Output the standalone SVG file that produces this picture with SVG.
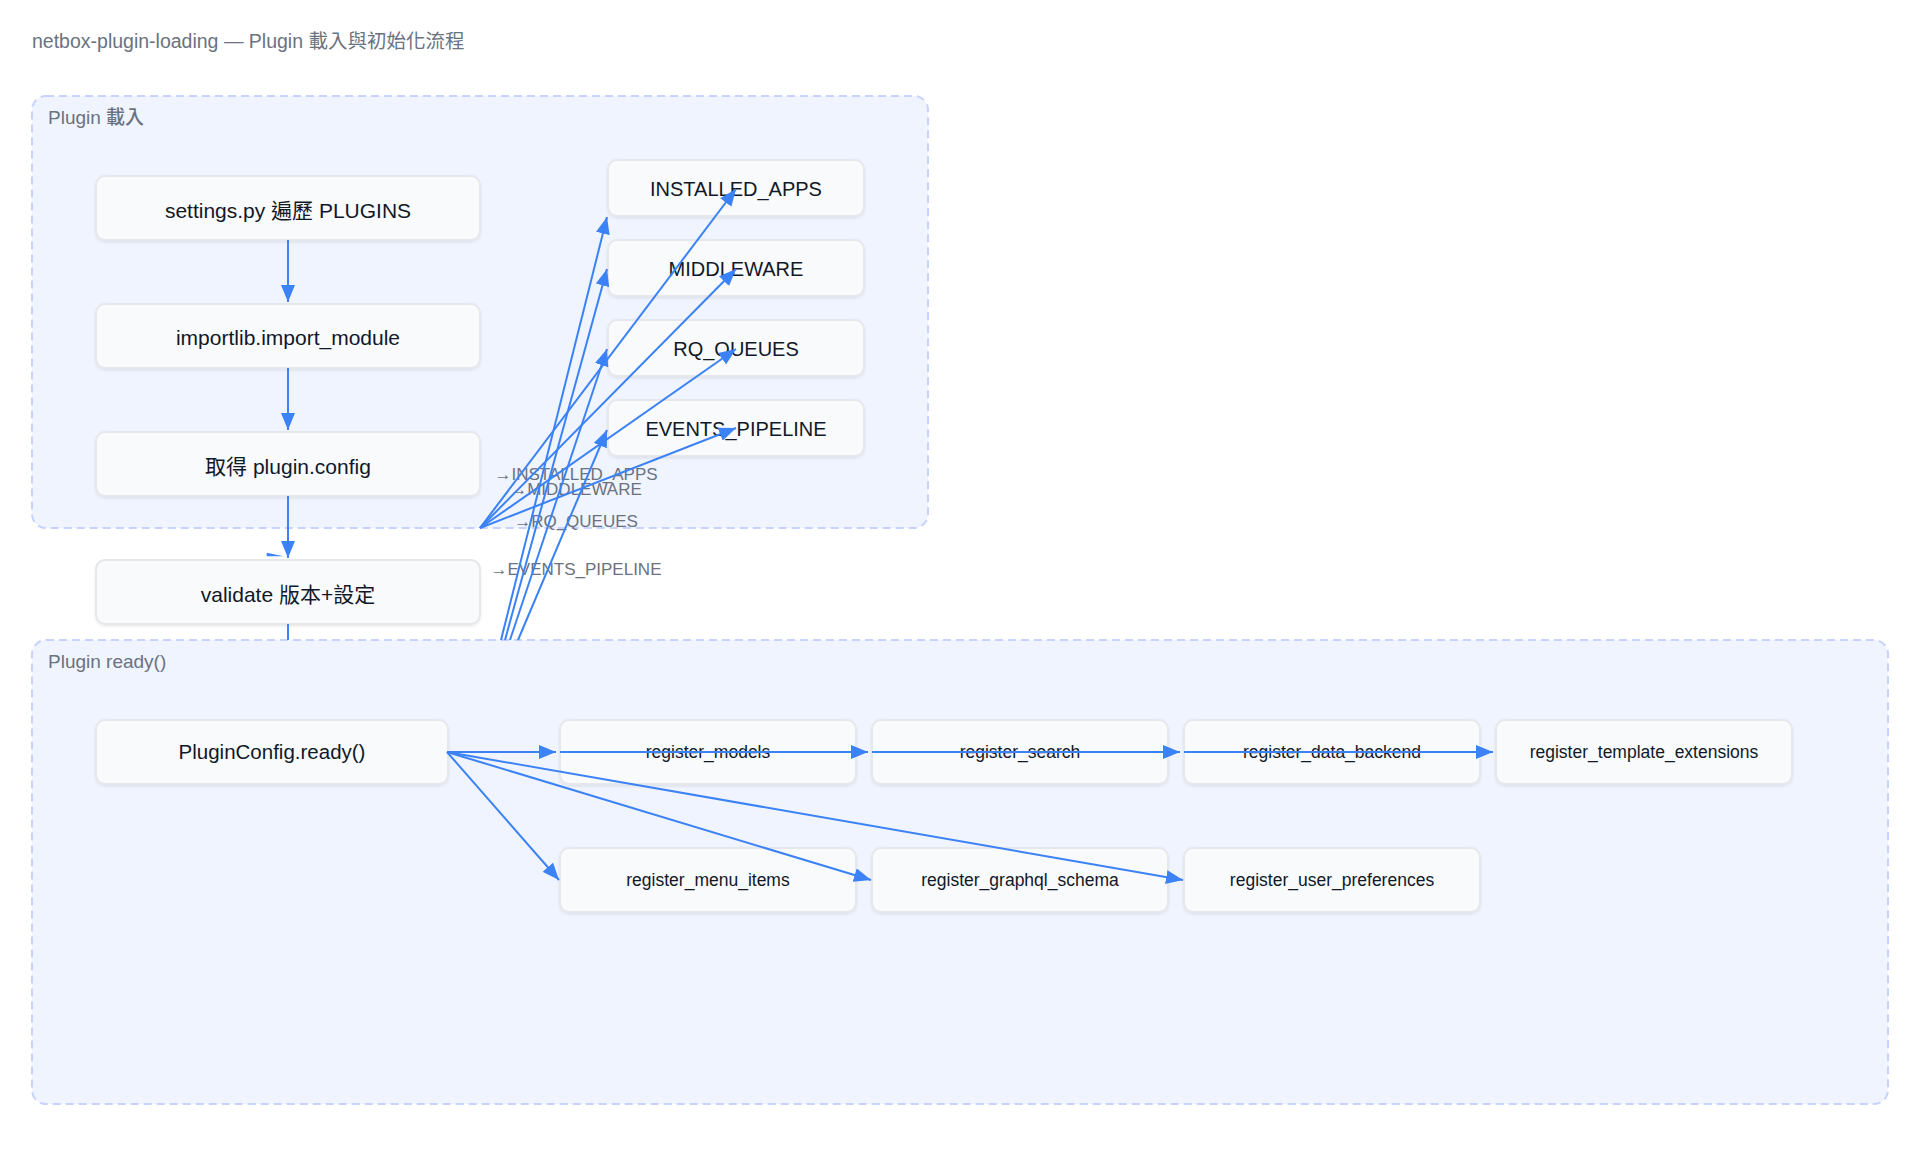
<svg xmlns="http://www.w3.org/2000/svg" width="1920" height="1152" viewBox="0 0 1920 1152">
<defs>
<style>
text{font-family:"Liberation Sans","Noto Sans CJK TC",sans-serif;}
.title{font-size:19.5px;fill:#6b7280;}
.glabel{font-size:19px;font-weight:500;fill:#6b7280;}
.group{fill:#eff4ff;stroke:#c7d2fe;stroke-width:2;stroke-dasharray:8 5;}
.node rect{fill:#f8fafc;stroke:#e5e7eb;stroke-width:2;filter:url(#sh);}
.node text{font-size:20px;fill:#111827;text-anchor:middle;}
.big text{font-size:21px;}
.mid text{font-size:20.5px;}
.small text{font-size:17.5px;}
.edge{stroke:#3b82f6;stroke-width:2;fill:none;marker-end:url(#arr);}
.elabel{font-size:17px;fill:#6b7280;text-anchor:middle;}
</style>
<filter id="sh" x="-5%" y="-10%" width="110%" height="130%">
<feDropShadow dx="0" dy="1.5" stdDeviation="1" flood-color="#000" flood-opacity="0.08"/>
</filter>
<marker id="arr" markerUnits="userSpaceOnUse" markerWidth="17" markerHeight="14" refX="17" refY="7" orient="auto">
<path d="M0,0 L17,7 L0,14 z" fill="#3b82f6"/>
</marker>
</defs>
<rect width="1920" height="1152" fill="#ffffff"/>
<text class="title" x="32" y="48">netbox-plugin-loading — Plugin 載入與初始化流程</text>

<g id="group-load">
<rect class="group" x="32" y="96" width="896" height="432" rx="14"/>
<text class="glabel" x="48" y="124">Plugin 載入</text>
</g>
<g id="group-ready">
<rect class="group" x="32" y="640" width="1856" height="464" rx="14"/>
<text class="glabel" x="48" y="668">Plugin ready()</text>
</g>

<g id="n-settings" class="node big"><rect x="96" y="176" width="384" height="64" rx="9"/><text x="288" y="218">settings.py 遍歷 PLUGINS</text></g>
<g id="n-import" class="node big"><rect x="96" y="304" width="384" height="64" rx="9"/><text x="288" y="345">importlib.import_module</text></g>
<g id="n-config" class="node big"><rect x="96" y="432" width="384" height="64" rx="9"/><text x="288" y="474">取得 plugin.config</text></g>
<g id="n-validate" class="node big"><rect x="96" y="560" width="384" height="64" rx="9"/><text x="288" y="602">validate 版本+設定</text></g>

<g id="n-installed" class="node"><rect x="608" y="160" width="256" height="56" rx="9"/><text x="736" y="196">INSTALLED_APPS</text></g>
<g id="n-middleware" class="node"><rect x="608" y="240" width="256" height="56" rx="9"/><text x="736" y="276">MIDDLEWARE</text></g>
<g id="n-rq" class="node"><rect x="608" y="320" width="256" height="56" rx="9"/><text x="736" y="356">RQ_QUEUES</text></g>
<g id="n-events" class="node"><rect x="608" y="400" width="256" height="56" rx="9"/><text x="736" y="436">EVENTS_PIPELINE</text></g>

<g id="n-ready" class="node mid"><rect x="96" y="720" width="352" height="64" rx="9"/><text x="272" y="759">PluginConfig.ready()</text></g>
<g id="n-models" class="node small"><rect x="560" y="720" width="296" height="64" rx="9"/><text x="708" y="758">register_models</text></g>
<g id="n-search" class="node small"><rect x="872" y="720" width="296" height="64" rx="9"/><text x="1020" y="758">register_search</text></g>
<g id="n-data" class="node small"><rect x="1184" y="720" width="296" height="64" rx="9"/><text x="1332" y="758">register_data_backend</text></g>
<g id="n-template" class="node small"><rect x="1496" y="720" width="296" height="64" rx="9"/><text x="1644" y="758">register_template_extensions</text></g>
<g id="n-menu" class="node small"><rect x="560" y="848" width="296" height="64" rx="9"/><text x="708" y="886">register_menu_items</text></g>
<g id="n-graphql" class="node small"><rect x="872" y="848" width="296" height="64" rx="9"/><text x="1020" y="886">register_graphql_schema</text></g>
<g id="n-prefs" class="node small"><rect x="1184" y="848" width="296" height="64" rx="9"/><text x="1332" y="886">register_user_preferences</text></g>

<g id="edge-labels">
<text class="elabel" x="576" y="480">→INSTALLED_APPS</text>
<text class="elabel" x="576" y="495">→MIDDLEWARE</text>
<text class="elabel" x="576" y="527">→RQ_QUEUES</text>
<text class="elabel" x="576" y="575">→EVENTS_PIPELINE</text>
</g>

<g id="connectors">
<line class="edge" x1="288" y1="240" x2="288" y2="302"/>
<line class="edge" x1="288" y1="368" x2="288" y2="430"/>
<line class="edge" x1="288" y1="496" x2="288" y2="558"/>
<path d="M266.7,552.7 L283.5,556.2 L266.7,556.2 z" fill="#3b82f6"/>
<line x1="288" y1="624" x2="288" y2="640" stroke="#3b82f6" stroke-width="2"/>

<line class="edge" x1="480" y1="528" x2="736" y2="189"/>
<line class="edge" x1="480" y1="528" x2="736" y2="269"/>
<line class="edge" x1="480" y1="528" x2="736" y2="349"/>
<line class="edge" x1="480" y1="528" x2="736" y2="428"/>

<line class="edge" x1="501" y1="640" x2="607" y2="217"/>
<line class="edge" x1="505" y1="640" x2="607" y2="269"/>
<line class="edge" x1="510" y1="640" x2="607" y2="349"/>
<line class="edge" x1="518" y1="640" x2="607" y2="430"/>

<line class="edge" x1="447" y1="752" x2="556" y2="752"/>
<line class="edge" x1="560" y1="752" x2="868" y2="752"/>
<line class="edge" x1="872" y1="752" x2="1180" y2="752"/>
<line class="edge" x1="1184" y1="752" x2="1493" y2="752"/>
<line class="edge" x1="447" y1="752" x2="559" y2="880"/>
<line class="edge" x1="447" y1="752" x2="871" y2="880"/>
<line class="edge" x1="447" y1="752" x2="1183" y2="880"/>
</g>
</svg>
